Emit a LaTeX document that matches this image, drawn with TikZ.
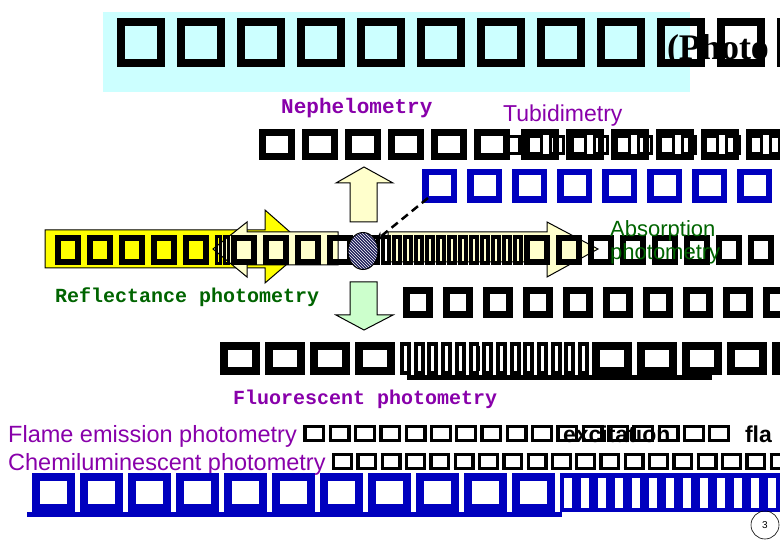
\documentclass[tikz,border=0pt]{standalone}
\usepackage{fontspec}
\usetikzlibrary{arrows.meta,patterns,shapes.geometric}

\newfontfamily\cournew{Liberation Mono}
\newfontfamily\arialsans{Liberation Sans}
\newfontfamily\timesserif{Liberation Serif}

\definecolor{bandcyan}{RGB}{204,255,255}
\definecolor{brightyellow}{RGB}{255,255,0}
\definecolor{paleyellow}{RGB}{255,255,204}
\definecolor{palegreen}{RGB}{204,255,204}
\definecolor{methodpurple}{RGB}{136,0,170}
\definecolor{methodgreen}{RGB}{0,100,0}
\definecolor{titleblue}{RGB}{0,0,190}
\definecolor{samplenavy}{RGB}{30,30,90}

% missing-glyph boxes: width, height, stroke, gap (in pt)
\newlength\tofuw \newlength\tofuh \newlength\tofut \newlength\tofug
\newcount\tofun
\newcommand\tofuset[4]{\setlength\tofuw{#1pt}\setlength\tofuh{#2pt}%
  \setlength\tofut{#3pt}\setlength\tofug{#4pt}}
\newcommand\tofu{\vbox{\hrule height\tofut width\tofuw
  \hbox to\tofuw{\vrule width\tofut height\dimexpr\tofuh-2\tofut\relax\hfil\vrule width\tofut}%
  \hrule height\tofut width\tofuw}\kern\tofug}
\newcommand\tofus[1]{\tofun=#1\relax\loop\ifnum\tofun>0 \tofu\advance\tofun by -1\repeat}

\begin{document}
\begin{tikzpicture}[x=1pt,y=-1pt,
    tofurow/.style={anchor=base west, inner sep=0pt, outer sep=0pt},
    courlabel/.style={anchor=base west, inner sep=0pt, font=\cournew\bfseries\fontsize{21}{24}\selectfont},
    ariallabel/.style={anchor=base west, inner sep=0pt, font=\arialsans\fontsize{23.5}{26}\selectfont},
    blockarrow/.style={draw=black, line width=1pt, line join=miter}]

    % Page frame
    \useasboundingbox (0,0) rectangle (780,540);
    \clip (0,0) rectangle (780,540);

    % Title band
    \fill[bandcyan] (103,12) rectangle (690,92);
    \node[tofurow] (title) at (117,67) {\tofuset{48}{49}{8}{12}\tofus{12}};
    \node[tofurow, font=\timesserif\bfseries\fontsize{36}{40}\selectfont] (photo) at (667,60) {(Photo};

    % Scattering labels
    \node[courlabel, text=methodpurple] (nephelo) at (281,114) {Nephelometry};
    \node[ariallabel, text=methodpurple, font=\arialsans\fontsize{23}{26}\selectfont] (turbid) at (503,122) {Tubidimetry};

    % Rows under the labels
    \node[tofurow] (rowa) at (259,160) {\tofuset{36}{31}{7}{7}\tofus{6}};
    \node[tofurow] (rowb) at (521,160) {\tofuset{38}{31}{6}{7}\tofus{6}};
    \node[tofurow] (rowc) at (505,155) {\tofuset{16}{20}{3}{6}\tofus{13}};
    \node[tofurow, text=titleblue] (rowblue) at (422,203) {\tofuset{35}{34}{6.5}{10}\tofus{9}};

    % Light beams (block arrows)
    \draw[blockarrow, fill=brightyellow] (45,230) -- (265,230) -- (265,210) -- (307,247)
        -- (265,283) -- (265,268) -- (45,268) -- cycle;
    \draw[blockarrow, fill=paleyellow] (338,232) -- (247,232) -- (247,222) -- (213,249)
        -- (247,277) -- (247,265) -- (338,265) -- cycle;
    \draw[blockarrow, fill=paleyellow] (388,232) -- (547,232) -- (547,222) -- (598,249)
        -- (547,277) -- (547,262) -- (388,262) -- cycle;
    \draw[blockarrow, fill=paleyellow] (350,222) -- (350,183) -- (336,183) -- (364,167)
        -- (393,183) -- (377,183) -- (377,222) -- cycle;
    \draw[blockarrow, fill=palegreen] (350,282) -- (377,282) -- (377,315) -- (393,315)
        -- (364,330) -- (336,315) -- (350,315) -- cycle;

    % Middle row over the beams
    \node[tofurow] (rowmid) at (55,265) {\tofuset{26}{30}{6}{6}\tofus{5}%
        \tofuset{7}{30}{3}{1}\tofus{2}\tofuset{26}{30}{6}{6}\tofus{4}%
        \tofuset{10}{30}{4}{1}\tofus{15}\tofuset{26}{30}{6}{6}\tofus{9}};

    % Sample
    \node[ellipse, draw=black, line width=1pt, minimum width=30pt, minimum height=37pt, inner sep=0pt,
        preaction={fill=samplenavy}, pattern=north west lines, pattern color=white] (sample) at (363,251) {};
    \coordinate (dashstart) at (428,198);
    \draw[black, line width=2.5pt, dash pattern=on 8pt off 5pt, -{Stealth[length=9pt,width=8pt]}]
        (dashstart) -- (sample);

    % Absorption and reflectance labels
    \node[ariallabel, text=methodgreen, font=\arialsans\fontsize{22}{24}\selectfont] (absorb) at (610,237) {Absorption};
    \node[ariallabel, text=methodgreen, font=\arialsans\fontsize{22}{24}\selectfont] (absorbb) at (610,260) {photometry};
    \node[courlabel, text=methodgreen, font=\cournew\bfseries\fontsize{20}{24}\selectfont] (reflect) at (55,303) {Reflectance photometry};
    \node[tofurow] (rowright) at (403,318) {\tofuset{30}{31}{7}{10}\tofus{10}};

    % Fluorescence
    \node[tofurow] (rowfluor) at (220,375) {\tofuset{40}{33}{8}{5}\tofus{4}%
        \tofuset{11}{33}{4}{2.7}\tofus{14}\tofuset{40}{33}{8}{5}\tofus{5}};
    \fill[black] (407,375) rectangle (712,380);
    \node[courlabel, text=methodpurple, font=\cournew\bfseries\fontsize{20}{24}\selectfont] (fluor) at (233,405) {Fluorescent photometry};

    % Emission methods
    \node[ariallabel, text=methodpurple] (flame) at (8,442) {Flame emission photometry
        {\color{black}\tofuset{22}{17}{3.3}{3.3}\tofus{17}}};
    \node[tofurow, font=\arialsans\bfseries\fontsize{23}{26}\selectfont] (excite) at (563,442) {excitation};
    \node[tofurow, font=\arialsans\bfseries\fontsize{23}{26}\selectfont] (flamejp) at (745,442) {fla};
    \node[ariallabel, text=methodpurple] (chemi) at (8,470) {Chemiluminescent photometry
        {\color{black}\tofuset{21}{17}{3.3}{3.3}\tofus{19}}};

    % Bottom blue row
    \node[tofurow, text=titleblue] (rowbottom) at (32,512) {\tofuset{43}{39}{8}{5}\tofus{11}%
        \tofuset{17}{39}{4.5}{0}\tofus{13}};
    \fill[titleblue] (27,512) rectangle (562,517);

    % Page number
    \node[circle, draw=black, line width=0.6pt, minimum size=28pt, inner sep=0pt,
        font=\arialsans\fontsize{10}{12}\selectfont] (pagenum) at (765,525) {3};
\end{tikzpicture}
\end{document}
